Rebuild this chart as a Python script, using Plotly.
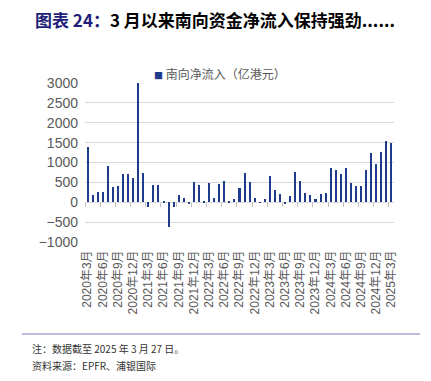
import plotly.graph_objects as go

months = [f"{y}年{m}月" for y in range(2020, 2026) for m in range(1, 13)]
months = months[months.index("2020年3月"): months.index("2025年3月") + 1]

net_inflow = [
    1400, 190, 260, 250, 900, 380, 410, 700, 700, 600,      # 2020-03..2020-12
    3000, 740, -125, 440, 440, 40, -630, -125, 185, 100, -50, 500,  # 2021
    440, 40, 490, 110, 460, 530, 10, 90, 350, 740, 500, 100,  # 2022
    5, 90, 670, 320, 220, -50, 150, 760, 540, 225, 185, 75,   # 2023
    220, 235, 850, 800, 700, 870, 480, 420, 420, 810, 1250, 950,  # 2024
    1260, 1530, 1500,                                          # 2025
]

series_name = "南向净流入（亿港元）"
y_ticks = [-1000, -500, 0, 500, 1000, 1500, 2000, 2500, 3000]
label_every = 3

idx = list(range(len(months)))
label_idx = idx[::label_every]
label_text = [months[i] for i in label_idx]
boundary_ticks = [i - 0.5 for i in label_idx]

BAR = "#1F3B8C"
GRAY_TXT = "#595959"

fig = go.Figure()
fig.add_trace(go.Bar(x=idx, y=net_inflow, marker=dict(color=BAR, line=dict(width=0)),
                     width=0.4, name=series_name, showlegend=False))
fig.add_trace(go.Scatter(x=[idx[0]], y=[0], xaxis="x2", mode="markers",
                         marker=dict(opacity=0), showlegend=False, hoverinfo="skip"))

xr = [-0.5, len(months) - 0.5]
fig.update_layout(
    width=431, height=381,
    margin=dict(l=85, r=37, t=83, b=139),
    paper_bgcolor="white", plot_bgcolor="white",
    font=dict(family="Liberation Sans, Noto Sans CJK SC", color=GRAY_TXT),
    bargap=0,
    xaxis=dict(range=xr, tickmode="array", tickvals=label_idx, ticktext=label_text,
               tickangle=-90, ticks="", showgrid=False, showline=False, zeroline=False,
               tickfont=dict(size=12, family="Liberation Sans, Noto Sans CJK SC", color=GRAY_TXT),
               ticklabelstandoff=5),
    xaxis2=dict(range=xr, overlaying="x", anchor="free", position=0.25,
                tickmode="array", tickvals=boundary_ticks, ticks="outside", ticklen=4,
                tickcolor="#BFBFBF", tickwidth=1, showticklabels=False, showgrid=False,
                showline=False, zeroline=False),
    yaxis=dict(range=[-1000, 3000], tickmode="array", tickvals=y_ticks,
               showgrid=True, gridcolor="#D9D9D9", gridwidth=1,
               zeroline=True, zerolinecolor="#D9D9D9", zerolinewidth=1,
               showline=False, ticks="",
               tickfont=dict(size=14, family="Liberation Sans", color=GRAY_TXT),
               ticklabelstandoff=6),
)

fig.add_annotation(
    xref="paper", yref="paper", x=(152 - 85) / 309, y=1 + (83 - 73) / 159,
    xanchor="left", yanchor="middle", showarrow=False,
    text=f"<span style='color:{BAR};font-size:9px'>■</span> {series_name}",
    font=dict(size=12, family="Noto Sans CJK SC", color=GRAY_TXT),
)

fig.add_annotation(
    xref="paper", yref="paper", x=(33 - 85) / 309, y=1 + (83 - 20) / 159,
    xanchor="left", yanchor="middle", showarrow=False,
    text="<b><span style='color:#1F1F7A'>图表 24：</span>3 月以来南向资金净流入保持强劲......</b>",
    font=dict(size=17, family="Noto Sans CJK SC", color="#000000"),
)

fig.add_shape(type="line", xref="paper", yref="paper",
              x0=(22 - 85) / 309, x1=(420 - 85) / 309,
              y0=-(334 - 242) / 159, y1=-(334 - 242) / 159,
              line=dict(color="#A6A3D4", width=1.5))

fig.add_annotation(
    xref="paper", yref="paper", x=(30 - 85) / 309, y=-(348 - 242) / 159,
    xanchor="left", yanchor="middle", showarrow=False,
    text="注：数据截至 2025 年 3 月 27 日。",
    font=dict(size=10, family="Noto Sans CJK SC", color="#333333"),
)
fig.add_annotation(
    xref="paper", yref="paper", x=(30 - 85) / 309, y=-(365 - 242) / 159,
    xanchor="left", yanchor="middle", showarrow=False,
    text="资料来源：EPFR、浦银国际",
    font=dict(size=10, family="Noto Sans CJK SC", color="#333333"),
)

fig.write_html("out.html")
